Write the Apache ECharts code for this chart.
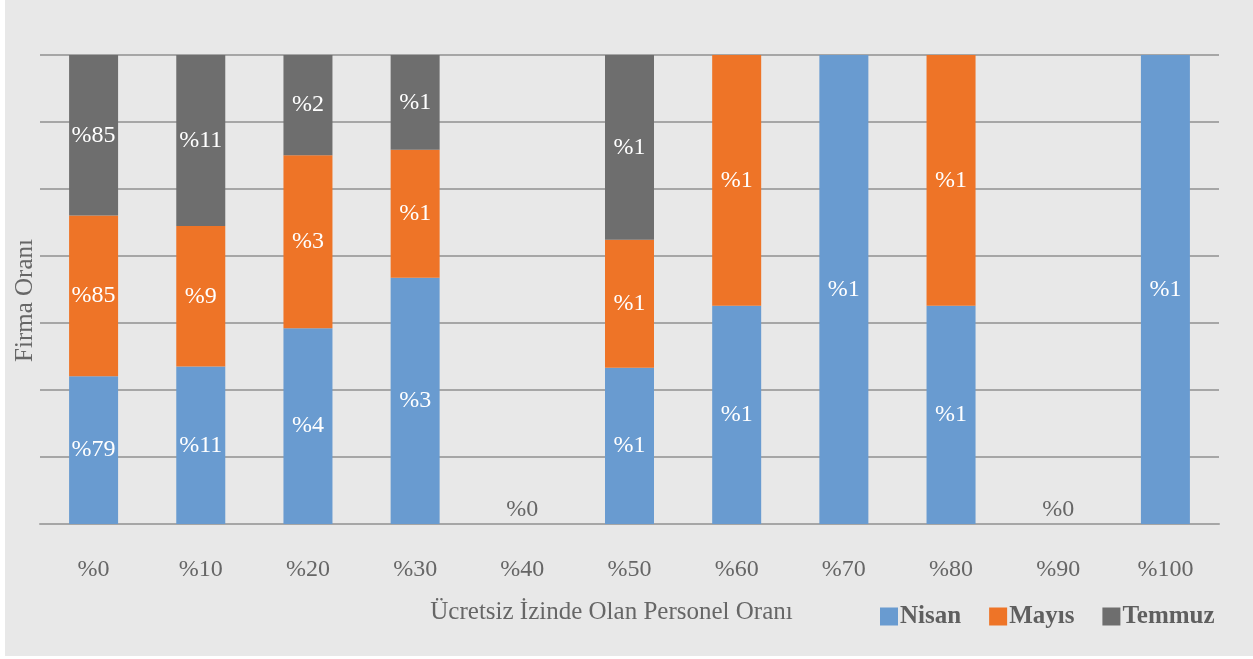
<!DOCTYPE html>
<html>
<head>
<meta charset="utf-8">
<script src="https://cdn.jsdelivr.net/npm/echarts@6/dist/echarts.min.js"></script>
<style>
  html, body { margin: 0; padding: 0; background: #ffffff; }
  #chart { position: absolute; left: 5px; top: 0; width: 1248px; height: 656px; }
</style>
</head>
<body>
<div id="chart"></div>
<script>
// Share of personnel on unpaid leave (categories) and firm percentages per month
const categories = ['%0', '%10', '%20', '%30', '%40', '%50', '%60', '%70', '%80', '%90', '%100'];
const nisan  = [78.6, 10.55, 3.9, 2.6, 0, 1.1, 1.0, 1.0, 1.0, 0, 1.0];
const mayis  = [85.45, 9.4, 3.45, 1.35, null, 0.9, 1.15, null, 1.15, null, null];
const temmuz = [85.4, 11.45, 2.0, 1.0, null, 1.3, null, null, null, null, null];
const seriesNames = ['Nisan', 'Mayıs', 'Temmuz'];

const raw = [nisan, mayis, temmuz];
const colors = ['#699BD0', '#EE7427', '#6E6E6E'];
const serif = '"Liberation Serif", "DejaVu Serif", serif';

// column totals for the 100% stack
const totals = categories.map((_, i) =>
  raw.reduce((s, arr) => s + (arr[i] == null ? 0 : arr[i]), 0));

function toItems(arr) {
  return arr.map((v, i) => {
    if (v == null) return null;
    if (totals[i] === 0) {
      // empty column: show the zero label just above the baseline
      return { value: 0, label: { position: 'top', distance: 2, color: '#666666' } };
    }
    return { value: v / totals[i] * 100 };
  });
}

const chart = echarts.init(document.getElementById('chart'));
chart.setOption({
  backgroundColor: '#E8E8E8',
  animation: false,
  color: colors,
  grid: { left: 30, top: 55, width: 1184, height: 469 },
  legend: {
    left: 870, top: 599,
    itemWidth: 18, itemHeight: 18, itemGap: 28,
    icon: 'rect',
    textStyle: { fontFamily: serif, fontSize: 25, fontWeight: 'bold', color: '#5F5F5F', padding: [0, 0, 0, -3] },
    data: seriesNames
  },
  xAxis: {
    type: 'category',
    data: categories,
    name: 'Ücretsiz İzinde Olan Personel Oranı',
    nameLocation: 'middle',
    nameGap: 76,
    nameTextStyle: { fontFamily: serif, fontSize: 25, color: '#666666', padding: [0, 36, 0, 0] },
    axisLine: { show: true, lineStyle: { color: '#A6A6A6', width: 2 } },
    axisTick: { show: false },
    axisLabel: { fontFamily: serif, fontSize: 24, color: '#666666', margin: 34 }
  },
  yAxis: {
    type: 'value',
    min: 0, max: 100, interval: 100 / 7,
    name: 'Firma Oranı',
    nameLocation: 'middle',
    nameGap: 2,
    nameTextStyle: { fontFamily: serif, fontSize: 25, color: '#666666', padding: [0, 22, 0, 0] },
    axisLabel: { show: false },
    axisLine: { show: false },
    axisTick: { show: false },
    splitLine: { lineStyle: { color: '#A6A6A6', width: 2 } }
  },
  series: raw.map((arr, si) => ({
    name: seriesNames[si],
    type: 'bar',
    stack: 'firms',
    barWidth: 49,
    data: toItems(arr),
    label: {
      show: true,
      position: 'inside',
      color: '#ffffff',
      fontFamily: serif,
      fontSize: 24,
      formatter: p => '%' + Math.round(raw[p.seriesIndex][p.dataIndex])
    }
  }))
});
</script>
</body>
</html>
